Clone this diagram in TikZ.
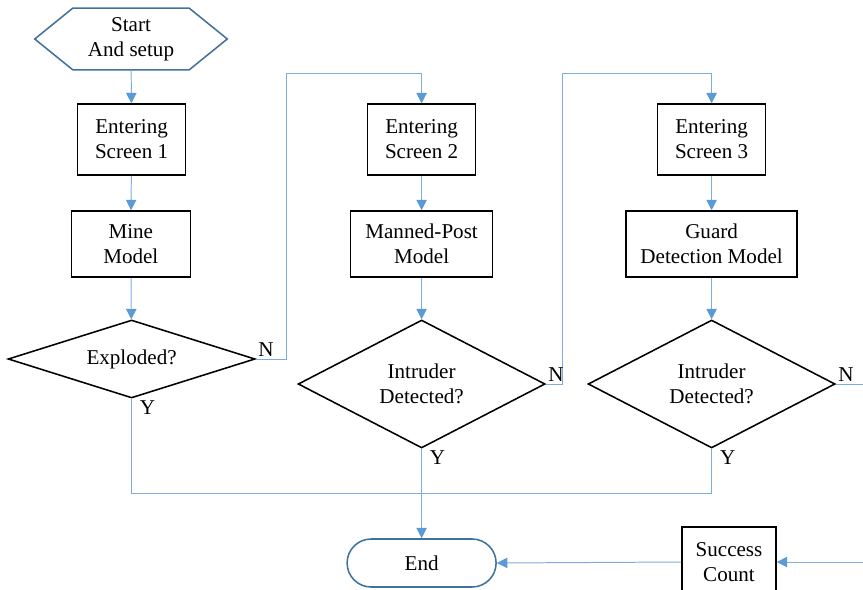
\documentclass[tikz,border=0pt]{standalone}
\usepackage{fontspec}
\setmainfont{Liberation Serif}
\definecolor{flowblue}{RGB}{125, 172, 222}
\definecolor{tipblue}{RGB}{91, 155, 213}
\definecolor{termblue}{RGB}{65, 113, 156}
\usetikzlibrary{shapes.geometric, arrows.meta, positioning, calc}

\tikzset{
  procbox/.style={draw=black, line width=1.1pt, align=center, inner sep=2pt, minimum height=1.7cm},
  decbox/.style={diamond, draw=black, line width=1.1pt, align=center, inner sep=0pt, minimum width=6.175cm},
  flowline/.style={draw=flowblue, line width=0.7pt},
  flowarrow/.style={flowline, -{Triangle[length=0.26cm, width=0.26cm, fill=tipblue, color=tipblue]}},
  lbl/.style={inner sep=1.5pt}
}

\begin{document}
\begin{tikzpicture}[font=\fontsize{15}{17.8}\selectfont]
  \useasboundingbox (0, 0) rectangle (21.575, -14.725);

  % Start
  \node[align=center, minimum width=4.8cm, minimum height=1.525cm, inner sep=0pt] (start) at (3.275, -0.975) {Start\\And setup};
  \draw[draw=termblue, line width=1.1pt] (start.west) -- ($(start.north west)+(0.95, 0)$) -- ($(start.north east)+(-0.95, 0)$)
    -- (start.east) -- ($(start.south east)+(-0.95, 0)$) -- ($(start.south west)+(0.95, 0)$) -- cycle;

  % Screen 1
  \node[procbox, minimum width=2.7cm, minimum height=1.775cm] (scr1) at (3.29, -3.49) {Entering\\Screen 1};
  \node[procbox, minimum width=2.975cm, minimum height=1.65cm] (mine) at (3.27, -6.1) {Mine\\Model};
  \node[decbox, aspect=3.17, minimum height=1.95cm] (expl) at (3.29, -8.975) {Exploded?};

  % Screen 2
  \node[procbox, minimum width=2.7cm, minimum height=1.775cm] (scr2) at (10.54, -3.49) {Entering\\Screen 2};
  \node[procbox, minimum width=3.55cm, minimum height=1.65cm] (manned) at (10.54, -6.1) {Manned-Post\\Model};
  \node[decbox, aspect=1.93, minimum height=3.2cm] (intr2) at (10.54, -9.6) {Intruder\\Detected?};

  % Screen 3
  \node[procbox, minimum width=2.7cm, minimum height=1.775cm] (scr3) at (17.79, -3.49) {Entering\\Screen 3};
  \node[procbox, minimum width=4.275cm, minimum height=1.65cm] (guard) at (17.79, -6.1) {Guard\\Detection Model};
  \node[decbox, aspect=1.93, minimum height=3.2cm] (intr3) at (17.79, -9.6) {Intruder\\Detected?};

  % End and count
  \node[draw=termblue, line width=1.1pt, rounded corners=0.6cm, minimum width=3.725cm, minimum height=1.2cm] (finish) at (10.54, -14.075) {End};
  \node[procbox, minimum width=2.35cm, minimum height=1.75cm] (succ) at (18.225, -14.05) {Success\\Count};

  % Helper points
  \coordinate (loopA) at (7.17, -1.83);
  \coordinate (loopB) at (14.07, -1.83);
  \coordinate (join) at (10.54, -12.325);

  % Straight flow
  \draw[flowarrow] (start) -- (scr1);
  \draw[flowarrow] (scr1) -- (mine);
  \draw[flowarrow] (mine) -- (expl);
  \draw[flowarrow] (scr2) -- (manned);
  \draw[flowarrow] (manned) -- (intr2);
  \draw[flowarrow] (scr3) -- (guard);
  \draw[flowarrow] (guard) -- (intr3);

  % N branches
  \draw[flowarrow] (expl.east) -| (loopA) -| (scr2.north);
  \draw[flowarrow] (intr2.east) -| (loopB) -| (scr3.north);
  \draw[flowarrow] (intr3.east) -- ++(1.5, 0) |- (succ.east);

  % Y branches
  \draw[flowline] (expl.south) |- (join);
  \draw[flowline] (intr3.south) |- (join);
  \draw[flowarrow] (intr2.south) -- (finish.north);
  \draw[flowarrow] (succ.west) -- (finish.east);

  % Labels
  \node[lbl, anchor=south west] (nA) at (expl.east) {N};
  \node[lbl, anchor=north west] (yA) at ($(expl.south)+(0.15, 0)$) {Y};
  \node[lbl, anchor=south west] (nB) at (intr2.east) {N};
  \node[lbl, anchor=north west] (yB) at ($(intr2.south)+(0.15, 0)$) {Y};
  \node[lbl, anchor=south west] (nC) at (intr3.east) {N};
  \node[lbl, anchor=north west] (yC) at ($(intr3.south)+(0.15, 0)$) {Y};
\end{tikzpicture}
\end{document}
